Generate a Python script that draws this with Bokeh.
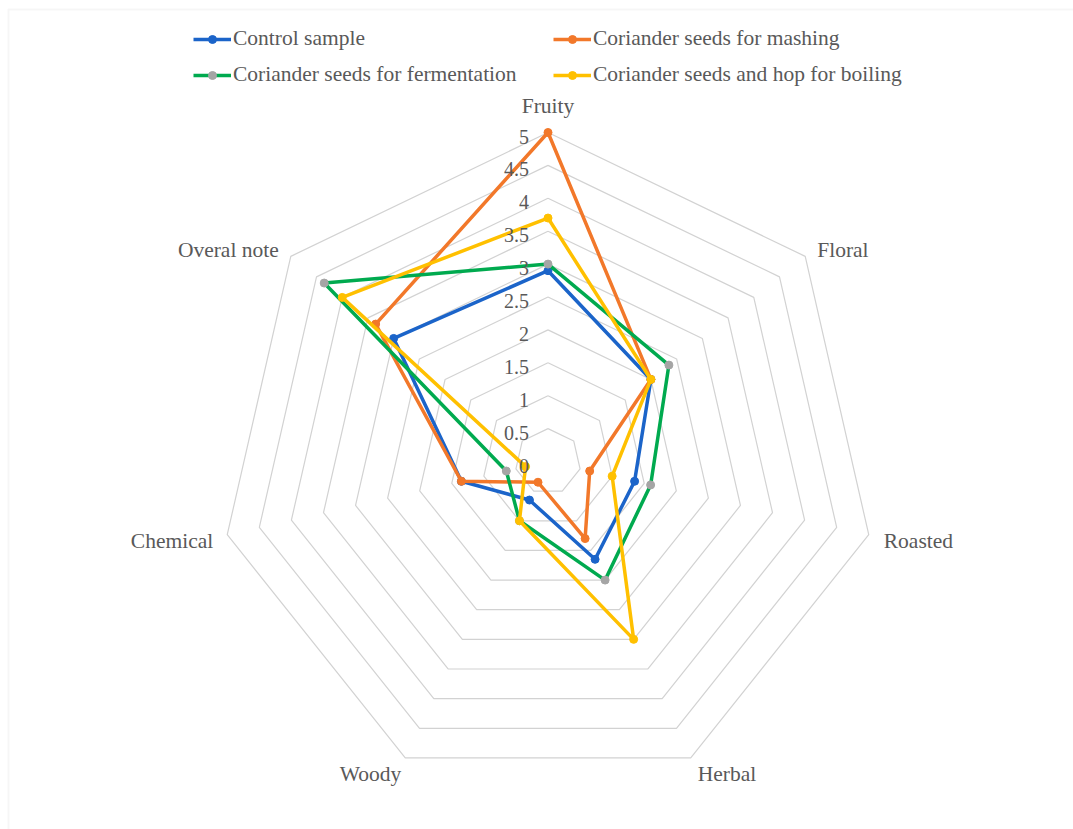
import numpy as np
from bokeh.plotting import figure
from bokeh.models import ColumnDataSource, Legend, LegendItem, BoxAnnotation, Range1d
from bokeh.core.properties import value
from bokeh.embed import file_html
from bokeh.resources import INLINE

# Sensory attributes (clockwise from the top) and mean panel scores
categories = ["Fruity", "Floral", "Roasted", "Herbal", "Woody", "Chemical", "Overal note"]
control = [2.9, 2.0, 1.35, 1.65, 0.65, 1.35, 3.0]
mashing = [5.0, 2.0, 0.65, 1.3, 0.35, 1.35, 3.35]
fermentation = [3.0, 2.35, 1.6, 2.0, 1.0, 0.65, 4.35]
boiling = [3.7, 2.0, 1.0, 3.0, 1.0, 0.35, 4.0]
series_names = ["Control sample", "Coriander seeds for mashing",
                "Coriander seeds for fermentation", "Coriander seeds and hop for boiling"]
ring_values = [0.5, 1.0, 1.5, 2.0, 2.5, 3.0, 3.5, 4.0, 4.5, 5.0]
tick_values = [0, 0.5, 1, 1.5, 2, 2.5, 3, 3.5, 4, 4.5, 5]
tick_labels = ["0", "0.5", "1", "1.5", "2", "2.5", "3", "3.5", "4", "4.5", "5"]

W, H = 1073, 829
CX, CY, UNIT = 547.5, 461.0, 65.8      # chart centre and pixels per score unit
FONT = "Liberation Serif"
TXT = "#595959"

line_colors = ["#1b64c9", "#f2782a", "#00aa4f", "#ffc000"]
marker_colors = ["#1b64c9", "#f2782a", "#a5a5a5", "#ffc000"]

n = len(categories)
ang = np.pi / 2 - np.arange(n) * 2 * np.pi / n


def polar(vals):
    v = np.asarray(vals, dtype=float)
    return v * np.cos(ang), v * np.sin(ang)


def px_x(px):
    return (px - CX) / UNIT


def px_y(py):
    return (CY - py) / UNIT


p = figure(width=W, height=H, output_backend="svg", toolbar_location=None,
           x_range=Range1d(px_x(0), px_x(W)), y_range=Range1d(px_y(H), px_y(0)),
           x_axis_location=None, y_axis_location=None, min_border=0,
           outline_line_color=None, background_fill_color="white",
           border_fill_color="white")
p.grid.visible = False

# chart-area border (top and left edges)
p.add_layout(BoxAnnotation(left=px_x(8), top=px_y(9), right=px_x(3000), bottom=px_y(3000),
                           fill_alpha=0, line_color="#e0e0e0", line_width=2))

# heptagonal grid rings
ring_xs, ring_ys = [], []
for r in ring_values:
    gx, gy = polar([r] * n)
    ring_xs.append(list(gx) + [gx[0]])
    ring_ys.append(list(gy) + [gy[0]])
p.multi_line(ring_xs, ring_ys, line_color="#d2d2d2", line_width=1.2)

# data series
legend_items = []
for name, vals, lc, mc in zip(series_names, [control, mashing, fermentation, boiling],
                              line_colors, marker_colors):
    sx, sy = polar(vals)
    lr = p.line(list(sx) + [sx[0]], list(sy) + [sy[0]], line_color=lc, line_width=3.5,
                line_join="round")
    mr = p.scatter(sx, sy, size=8, fill_color=mc, line_color=mc)
    legend_items.append(LegendItem(label=name, renderers=[lr, mr]))

# value labels along the Fruity axis
tsrc = ColumnDataSource(dict(x=[0.0] * len(tick_values), y=tick_values, t=tick_labels))
p.text("x", "y", text="t", source=tsrc, x_offset=-19, y_offset=4,
       text_align="right", text_baseline="middle", text_font=value(FONT),
       text_font_size="20px", text_color=TXT)

# category labels just outside the outer ring
ox, oy = polar([ring_values[-1]] * n)
csrc = ColumnDataSource(dict(
    x=ox, y=oy, t=categories,
    dx=[0, 12, 15, 7, -4, -14, -12],
    dy=[-27, -6, 6, 16, 16, 6, -6],
    al=["center", "left", "left", "left", "right", "right", "right"]))
p.text("x", "y", text="t", source=csrc, x_offset="dx", y_offset="dy",
       text_align="al", text_baseline="middle", text_font=value(FONT),
       text_font_size="21.5px", text_color=TXT)

# legend, two rows of two entries
legend_pos = [(193, 778), (553, 778), (193, 742), (553, 742)]
for item, loc in zip(legend_items, legend_pos):
    lg = Legend(items=[item], location=loc, padding=0, margin=0, glyph_width=38,
                glyph_height=20, label_height=20, label_standoff=2,
                border_line_color=None, background_fill_alpha=0,
                label_text_font=FONT, label_text_font_size="21.5px",
                label_text_color=TXT)
    p.add_layout(lg)

open("out.html", "w").write(file_html(p, INLINE))
